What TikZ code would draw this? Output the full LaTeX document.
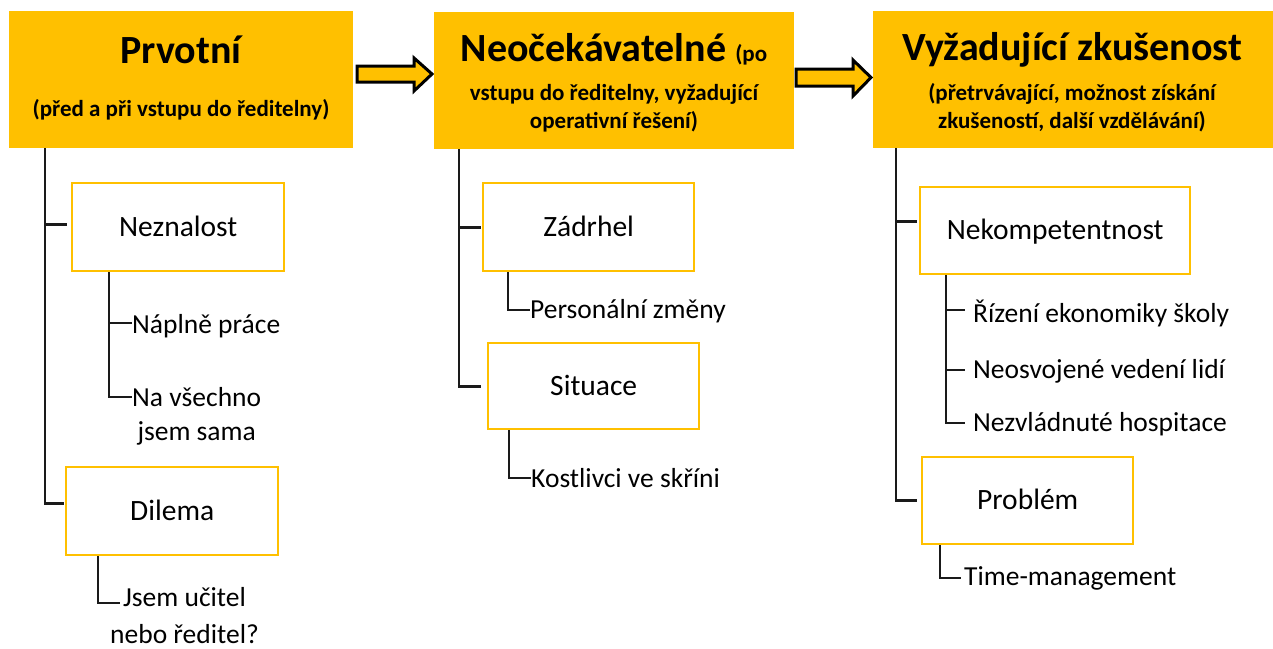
\documentclass[tikz,border=0pt]{standalone}
\usepackage{fontspec}
\setmainfont{Carlito}
\definecolor{gold}{HTML}{FFC000}
\definecolor{ink}{HTML}{1A1A1A}
\newcommand\titlefnt{\fontsize{40}{46}\selectfont\bfseries}
\newcommand\subfnt{\fontsize{23}{28}\selectfont\bfseries}
\newcommand\catfnt{\fontsize{29.5}{36}\selectfont}
\newcommand\itemfnt{\fontsize{27.5}{34}\selectfont}
\begin{document}
\begin{tikzpicture}[x=1pt,y=-1pt,
  headbox/.style={fill=gold, draw=none, inner sep=0, anchor=north west},
  titletext/.style={anchor=base, inner sep=0, font=\titlefnt},
  subtext/.style={anchor=base, inner sep=0, font=\subfnt},
  catbox/.style={draw=gold, line width=2.4pt, fill=white, inner sep=0, anchor=north west,
    font=\catfnt, text height=18pt, text depth=0pt},
  itemtext/.style={anchor=base west, inner sep=0, font=\itemfnt},
  conn/.style={draw=ink, line width=2.8pt},
  bigarrow/.style={draw=black, line width=3pt, fill=gold, line join=miter}]
\useasboundingbox (0,0) rectangle (1273,648);

% header boxes
\node[headbox, minimum width=344pt, minimum height=137pt] (h1) at (9,11) {};
\node[headbox, minimum width=360pt, minimum height=137pt] (h2) at (434,12) {};
\node[headbox, minimum width=400pt, minimum height=137pt] (h3) at (873,11) {};

% header texts
\node[titletext] (t1) at (181,63) {Prvotní};
\node[subtext] (s1) at (181,116) {(před a při vstupu do ředitelny)};
\node[titletext] (t2) at (614,61) {Neočekávatelné {\subfnt (po}};
\node[subtext] (s2) at (614,100) {\begin{tabular}[t]{@{}c@{}}vstupu do ředitelny, vyžadující\\operativní řešení)\end{tabular}};
\node[titletext] (t3) at (1072,60) {Vyžadující zkušenost};
\node[subtext] (s3) at (1072,100) {\begin{tabular}[t]{@{}c@{}}(přetrvávající, možnost získání\\zkušeností, další vzdělávání)\end{tabular}};

% arrows between headers
\draw[bigarrow] (357,66) -- (414,66) -- (414,58) -- (432,74) -- (414,91) -- (414,82) -- (357,82) -- cycle;
\draw[bigarrow] (796,69) -- (853,69) -- (853,60) -- (871,77.5) -- (853,96) -- (853,86) -- (796,86) -- cycle;

% category boxes
\node[catbox, minimum width=212pt, minimum height=88pt] (nez) at (71,182) {Neznalost};
\node[catbox, minimum width=212pt, minimum height=88pt] (dil) at (65,466) {Dilema};
\node[catbox, minimum width=211pt, minimum height=88pt] (zad) at (482,182) {Zádrhel};
\node[catbox, minimum width=211pt, minimum height=86pt] (sit) at (487,342) {Situace};
\node[catbox, minimum width=270pt, minimum height=87pt] (nek) at (919,186) {Nekompetentnost};
\node[catbox, minimum width=211pt, minimum height=87pt] (pro) at (921,456) {Problém};

% items
\node[itemtext] (i11) at (132,333) {Náplně práce};
\node[itemtext] (i12) at (132,406) {\begin{tabular}[t]{@{}c@{}}Na všechno\\jsem sama\end{tabular}};
\node[itemtext, font=\fontsize{27.5}{37}\selectfont] (i21) at (110,606) {\begin{tabular}[t]{@{}c@{}}Jsem učitel\\nebo ředitel?\end{tabular}};
\node[itemtext] (i31) at (530,318) {Personální změny};
\node[itemtext] (i41) at (531,487) {Kostlivci ve skříni};
\node[itemtext] (i51) at (973,322) {Řízení ekonomiky školy};
\node[itemtext] (i52) at (973,378) {Neosvojené vedení lidí};
\node[itemtext] (i53) at (973,431) {Nezvládnuté hospitace};
\node[itemtext] (i61) at (964,585) {Time-management};

% column 1 connectors
\draw[conn] (h1.south -| 45,0) |- ([yshift=8pt,xshift=-1pt]dil.west);
\draw[conn] ([yshift=3pt]nez.west -| 45,0) -- ([yshift=3pt,xshift=-4pt]nez.west);
\draw[conn] (nez.south -| 109,0) |- ([yshift=9pt]i12.base west);
\draw[conn] ([yshift=10pt]i11.base west -| 109,0) -- ([yshift=10pt]i11.base west);
\draw[conn] (dil.south -| 98,0) |- ([yshift=3pt,xshift=10pt]i21.base west);

% column 2 connectors
\draw[conn] (h2.south -| 459,0) |- ([xshift=-6pt]sit.west);
\draw[conn] (zad.west -| 459,0) -- ([xshift=-1pt]zad.west);
\draw[conn] (zad.south -| 508,0) |- ([yshift=8pt]i31.base west);
\draw[conn] (sit.south -| 509,0) |- ([yshift=9pt]i41.base west);

% column 3 connectors
\draw[conn] (h3.south -| 896,0) |- ([xshift=-4pt]pro.west);
\draw[conn] ([yshift=9pt]nek.west -| 896,0) -- ([yshift=9pt,xshift=-2pt]nek.west);
\draw[conn] (nek.south -| 946,0) |- ([yshift=8pt,xshift=-8pt]i53.base west);
\draw[conn] ([yshift=12pt]i51.base west -| 946,0) -- ([yshift=12pt,xshift=-8pt]i51.base west);
\draw[conn] ([yshift=8pt]i52.base west -| 946,0) -- ([yshift=8pt,xshift=-8pt]i52.base west);
\draw[conn] (pro.south -| 940,0) |- ([yshift=7pt,xshift=-3pt]i61.base west);
\end{tikzpicture}
\end{document}
